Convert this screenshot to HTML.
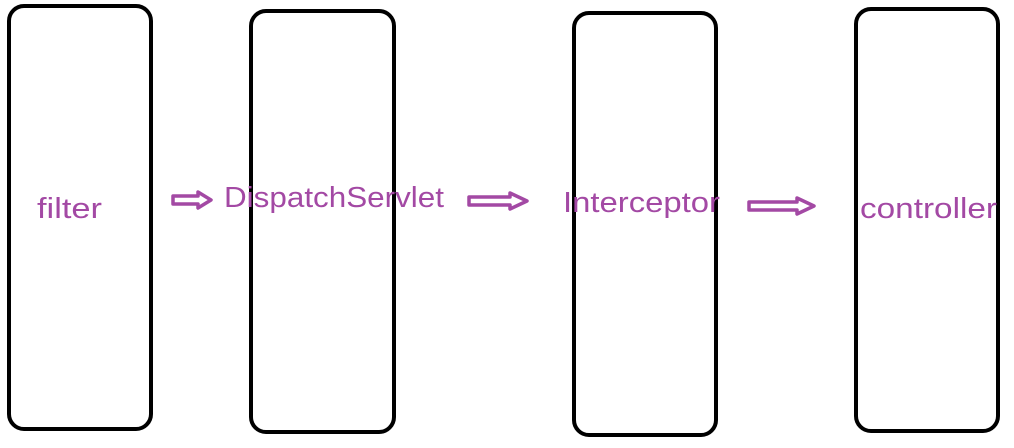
<!DOCTYPE html>
<html><head><meta charset="utf-8"><style>html,body{margin:0;padding:0;background:#fff;width:1014px;height:448px;overflow:hidden}</style></head>
<body>
<svg width="1014" height="448" viewBox="0 0 1014 448">
<g fill="none" stroke="#000" stroke-width="4">
<rect x="9" y="6" width="142" height="423" rx="15"/>
<rect x="251" y="11" width="143" height="421" rx="15"/>
<rect x="574" y="13" width="142" height="422" rx="15"/>
<rect x="856" y="9" width="142" height="422" rx="15"/>
</g>
<g fill="#a349a4" font-family="'Liberation Sans', sans-serif" font-size="29">
<text x="37" y="218" textLength="65" lengthAdjust="spacingAndGlyphs">filter</text>
<text x="224" y="207" textLength="220" lengthAdjust="spacingAndGlyphs">DispatchServlet</text>
<text x="563" y="212" textLength="157" lengthAdjust="spacingAndGlyphs">Interceptor</text>
<text x="860" y="218" textLength="137" lengthAdjust="spacingAndGlyphs">controller</text>
</g>
<g fill="none" stroke="#a349a4" stroke-width="3.5" stroke-linejoin="round">
<path d="M173 196 H198 V192 L211 200 L198 208 V204 H173 Z"/>
<path d="M469 197 H510 V193 L527 201 L510 209 V205 H469 Z"/>
<path d="M749 202 H797 V198 L814 206 L797 214 V210 H749 Z"/>
</g>
</svg>
</body></html>
